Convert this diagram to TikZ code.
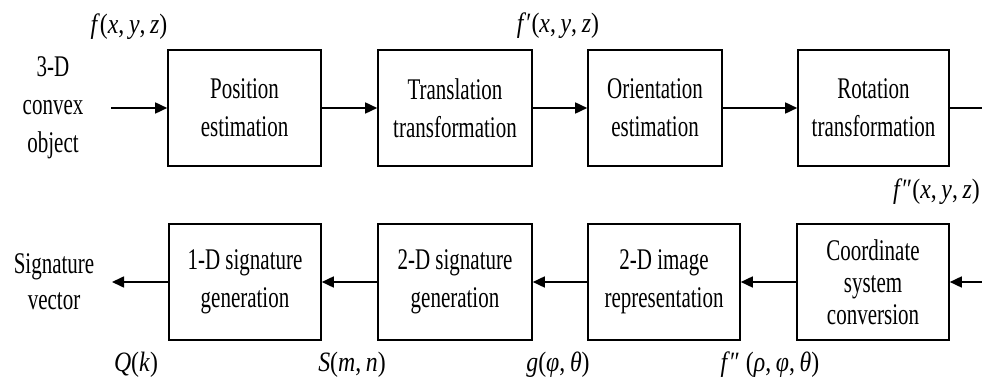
\documentclass[tikz,border=0pt]{standalone}
\usepackage{fontspec}
\setmainfont{Liberation Serif}[FakeStretch=0.7]
\newfontfamily\lblfont{Liberation Serif}[FakeStretch=0.85]
\usetikzlibrary{arrows.meta}

\tikzset{
  block/.style={draw, line width=1.6pt, minimum height=116pt, align=center,
    inner sep=2pt, font=\fontsize{30}{38}\selectfont},
  plain/.style={align=center, font=\fontsize{30}{36}\selectfont},
  sig/.style={font=\lblfont\fontsize{28}{30}\selectfont},
  flow/.style={line width=1.6pt, -{Triangle[length=12pt,width=11pt]}},
}

\begin{document}
\begin{tikzpicture}[x=1pt, y=1pt]
    \useasboundingbox (0,0) rectangle (982,383);

    % Top row
    \node[block, minimum width=153pt] (pos) at (244.5,275) {Position\\estimation};
    \node[block, minimum width=154pt] (trans) at (455,275) {Translation\\transformation};
    \node[block, minimum width=134pt] (orient) at (655,275) {Orientation\\estimation};
    \node[block, minimum width=151pt] (rot) at (873.5,275) {Rotation\\transformation};

    % Bottom row
    \node[block, minimum width=152pt] (sigone) at (245,101) {1-D signature\\generation};
    \node[block, minimum width=154pt] (sigtwo) at (455,101) {2-D signature\\generation};
    \node[block, minimum width=152pt] (img) at (664,101) {2-D image\\representation};
    \node[block, minimum width=152pt, font=\fontsize{30}{32}\selectfont] (conv) at (873,101) {Coordinate\\system\\conversion};

    % Input and output
    \node[plain, font=\fontsize{30}{38}\selectfont] (obj) at (53,275) {3-D\\convex\\object};
    \node[plain] (vec) at (54,101) {Signature\\vector};
    \coordinate (in) at (111,275);
    \coordinate (out) at (112,101);
    \coordinate (rtop) at (982,275);
    \coordinate (rbot) at (982,101);

    % Connections
    \draw[flow] (in) -- (pos);
    \draw[flow] (pos) -- (trans);
    \draw[flow] (trans) -- (orient);
    \draw[flow] (orient) -- (rot);
    \draw[line width=1.6pt] (rot) -- (rtop);
    \draw[flow] (rbot) -- (conv);
    \draw[flow] (conv) -- (img);
    \draw[flow] (img) -- (sigtwo);
    \draw[flow] (sigtwo) -- (sigone);
    \draw[flow] (sigone) -- (out);

    % Signal labels
    \node[sig] (fa) at (129,356) {\textit{f}(\textit{x},\,\textit{y},\,\textit{z})};
    \node[sig] (fb) at (558,357) {\textit{f}′(\textit{x},\,\textit{y},\,\textit{z})};
    \node[sig, anchor=east, inner sep=1pt] (fc) at (981,191) {\textit{f}″(\textit{x},\,\textit{y},\,\textit{z})};
    \node[sig] (qk) at (136,18) {\textit{Q}(\textit{k})};
    \node[sig] (smn) at (352,18) {\textit{S}(\textit{m},\,\textit{n})};
    \node[sig] (gpt) at (558,18) {\textit{g}(\textit{φ},\,\textit{θ})};
    \node[sig] (fd) at (770,18) {\textit{f}″ (\textit{ρ},\,\textit{φ},\,\textit{θ})};
\end{tikzpicture}
\end{document}
